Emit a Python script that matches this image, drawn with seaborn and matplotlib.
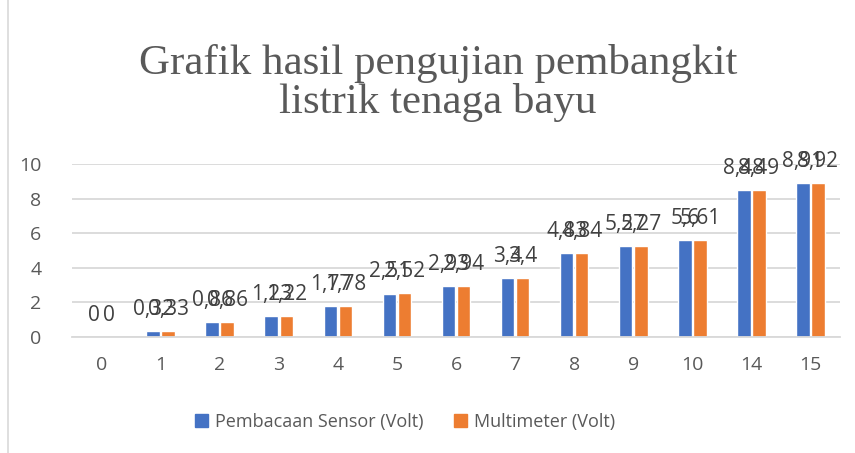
import matplotlib
matplotlib.use('Agg')
import matplotlib.pyplot as plt
import seaborn as sns
import pandas as pd
from matplotlib.lines import Line2D

# data
kategori = ['0', '1', '2', '3', '4', '5', '6', '7', '8', '9', '10', '14', '15']
sensor = [0, 0.32, 0.86, 1.23, 1.77, 2.51, 2.93, 3.4, 4.83, 5.27, 5.6, 8.48, 8.91]
multimeter = [0, 0.33, 0.86, 1.22, 1.78, 2.52, 2.94, 3.4, 4.84, 5.27, 5.61, 8.49, 8.92]
seri = ['Pembacaan Sensor (Volt)', 'Multimeter (Volt)']
warna = ['#4472C4', '#ED7D31']

df = pd.DataFrame({
    'kategori': kategori * 2,
    'nilai': sensor + multimeter,
    'seri': [seri[0]] * len(kategori) + [seri[1]] * len(kategori),
})

sns.set_style('white')
plt.rcParams['font.family'] = ['Open Sans', 'DejaVu Sans']

fig = plt.figure(figsize=(8.55, 4.53), dpi=100)
ax = fig.add_axes([72 / 855, 1 - 337 / 453, 768 / 855, 173 / 453])

sns.barplot(data=df, x='kategori', y='nilai', hue='seri', order=kategori,
            hue_order=seri, palette=warna, width=0.51, gap=0.1,
            saturation=1, ax=ax, legend=False)

for cont in ax.containers:
    lab = [('%g' % b.get_height()).replace('.', ',') for b in cont]
    ax.bar_label(cont, labels=lab, padding=8, fontsize=15, color='#404040')

ax.set_ylim(0, 10)
ax.set_yticks([0, 2, 4, 6, 8, 10])
ax.set_xlim(-0.5, len(kategori) - 0.5)
ax.yaxis.grid(True, color='#D9D9D9', linewidth=1.3)
ax.set_axisbelow(True)
for s in ['top', 'right', 'left']:
    ax.spines[s].set_visible(False)
ax.spines['bottom'].set_color('#D9D9D9')
ax.spines['bottom'].set_linewidth(1.3)
ax.tick_params(axis='both', length=0, labelsize=14, labelcolor='#595959')
ax.tick_params(axis='x', pad=14)
ax.tick_params(axis='y', pad=22)
ax.set_xlabel('')
ax.set_ylabel('')

fig.text(438 / 855, 1 - 83 / 453, 'Grafik hasil pengujian pembangkit\nlistrik tenaga bayu',
         ha='center', va='center', fontsize=31, color='#595959',
         family='Liberation Serif', linespacing=0.98)

handles = [plt.Rectangle((0, 0), 1, 1, color=c) for c in warna]
fig.legend(handles, seri, loc='center', bbox_to_anchor=(405 / 855, 1 - 422 / 453),
           ncol=2, frameon=False, fontsize=13, labelcolor='#595959',
           handlelength=0.7, handleheight=0.7, handletextpad=0.4, columnspacing=1.7)

fig.add_artist(Line2D([8 / 855, 8 / 855], [0, 1], color='#D9D9D9', linewidth=1.2,
                      transform=fig.transFigure))

fig.savefig('out.png', dpi=100)
